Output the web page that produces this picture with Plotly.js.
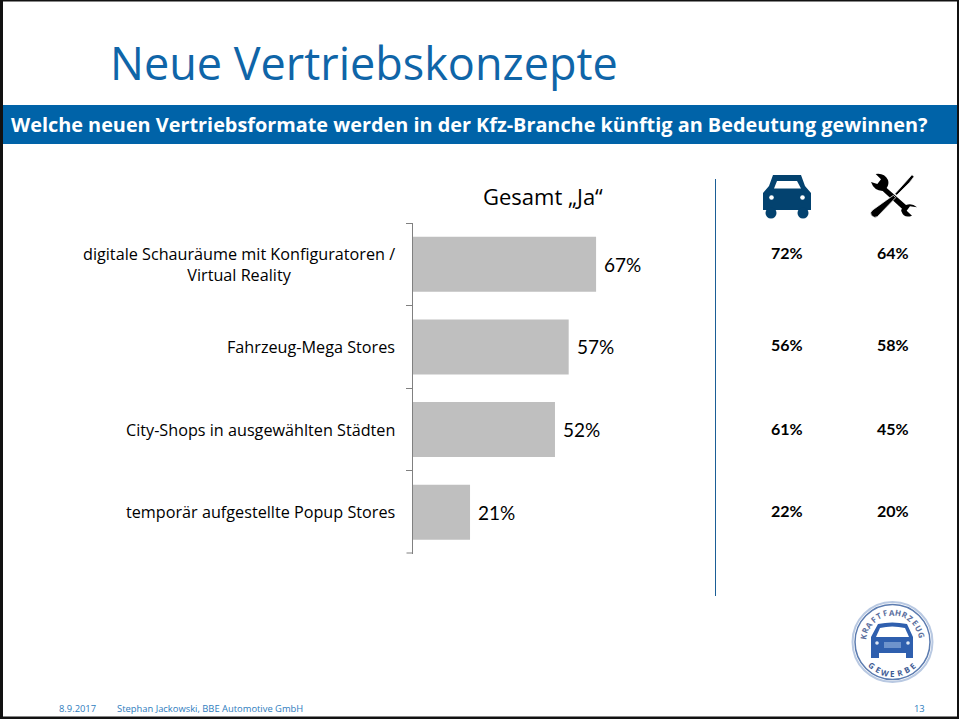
<!DOCTYPE html>
<html><head><meta charset="utf-8">
<script src="https://cdn.plot.ly/plotly-3.0.1.min.js"></script>
<style>html,body{margin:0;padding:0;background:#fff;overflow:hidden}#c{width:959px;height:719px}</style>
</head><body><div id="c"></div>
<script>
const categories=["digitale Schauräume mit Konfiguratoren /<br>Virtual Reality","Fahrzeug-Mega Stores","City-Shops in ausgewählten Städten","temporär aufgestellte Popup Stores"];
const gesamt=[67,57,52,21];
const handel=[72,56,61,22];
const service=[64,58,45,20];
const slideTitle="Neue Vertriebskonzepte";
const question="Welche neuen Vertriebsformate werden in der Kfz-Branche künftig an Bedeutung gewinnen?";
const columnTitle="Gesamt „Ja“";
const footerDate="8.9.2017";
const footerAuthor="Stephan Jackowski, BBE Automotive GmbH";
const pageNo="13";
const logoTop="KRAFTFAHRZEUG";
const logoBottom="GEWERBE";

const W=959,H=719,F="Lato, Carlito, sans-serif",O="'Open Sans', sans-serif";
const fx=x=>x/W, fy=y=>1-y/H;
const rowY=[253,344,428,510];
function path(str,ox=0,oy=0,s=1){
  return str.replace(/(-?[\d.]+),(-?[\d.]+)/g,(m,a,b)=>fx(ox+a*s)+","+fy(oy+b*s));
}
function pshape(d,fill,extra={}){return Object.assign({type:"path",xref:"paper",yref:"paper",path:d,fillcolor:fill,line:{width:0},layer:"above"},extra);}
function rect(x0,y0,x1,y1,fill){return {type:"rect",xref:"paper",yref:"paper",x0:fx(x0),x1:fx(x1),y0:fy(y0),y1:fy(y1),fillcolor:fill,line:{width:0},layer:"below"};}
function circ(cx,cy,r,fill,lc,lw){return {type:"circle",xref:"paper",yref:"paper",x0:fx(cx-r),x1:fx(cx+r),y0:fy(cy-r),y1:fy(cy+r),fillcolor:fill,line:{width:lw||0,color:lc||fill},layer:"above"};}
function txt(x,y,t,size,color,o={}){return Object.assign({xref:"paper",yref:"paper",x:fx(x),y:fy(y),text:t,showarrow:false,font:{family:O,size,color},xanchor:"left",yanchor:"middle",borderpad:0,borderwidth:0},o);}

const navy="#03426F";
const shapes=[
  rect(3,105,959,144,"#0063A8"),
  rect(0,0,959,1.5,"#111"),rect(0,0,3,719,"#111"),rect(957,0,959,719,"#111"),rect(0,716.5,959,719,"#111"),
  {type:"line",xref:"paper",yref:"paper",x0:fx(715.5),x1:fx(715.5),y0:fy(179),y1:fy(596),line:{color:"#1B5E96",width:1},layer:"above"},
  {type:"line",xref:"paper",yref:"paper",x0:fx(406.5),x1:fx(412.5),y0:fy(553),y1:fy(553),line:{color:"#808080",width:1},layer:"above"},
  pshape(path("M773,175 L801,175 L805,186 L811,193 L811,210 L763,210 L763,193 L769,186 Z"),navy),
  circ(771,213,5.5,navy),circ(803,213,5.5,navy),
  pshape(path("M777,181 L797,181 L801,188.5 L774,188.5 Z"),"#fff"),
  circ(771.5,197.5,2.3,"#fff"),circ(802.5,197.5,2.3,"#fff"),
  pshape(path("M527,42 Q553,38 564,60 Q568,72 560,84 L618,135 Q636,128 651,142 L630,139 L620,152 L636,167 Q612,176 604,154 Q602,150 606,146 L548,93 Q522,92 513,66 L532,72 L543,58 Z",700,160,1/3),"#000"),
  pshape(path("M636,44 L642,50 L628,68 L590,106 L585,101 L622,60 Z",700,160,1/3),"#000",{line:{width:0.7,color:"#fff"}}),
  pshape(path("M580,106 L587,113 L532,170 Q522,176 514,166 Q508,158 518,150 L560,120 Z",700,160,1/3),"#000",{line:{width:0.7,color:"#fff"}}),
  circ(892.5,642,40,"#fff","#B9C9E2",2),
  circ(892.5,642,37.5,"rgba(0,0,0,0)","#5C7CB0",1.5),
  pshape(path("M878,624 Q892,621 907,624 L913,637 L913,658 L906,658 L906,653 L879,653 L879,658 L871,658 L871,637 Z"),"#2F5FAE"),
  pshape(path("M880,628 Q892,625 905,628 L909,637 L876,637 Z"),"#fff"),
  pshape(path("M884,642 L901,642 L901,648 L884,648 Z"),"#6E93CC"),
  circ(877,643,1.8,"#DDE7F5"),circ(908,643,1.8,"#DDE7F5")
];
const annotations=[
  txt(110,62,slideTitle,45,"#0F65A8"),
  txt(11,124,"<b>"+question+"</b>",19.85,"#fff"),
  txt(483,196,columnTitle,22,"#000"),
  txt(59,708.5,footerDate,9.4,"#2F7DBE"),
  txt(117,708.5,footerAuthor,9.4,"#2F7DBE"),
  txt(914,708.5,pageNo,9.4,"#2F7DBE")
];
categories.forEach((c,i)=>{
  annotations.push({xref:"paper",yref:"y",x:fx(397),y:c,text:c,showarrow:false,xanchor:"right",yanchor:"middle",align:"center",font:{family:O,size:16.2,color:"#000"}});
  annotations.push({xref:"x",yref:"y",x:gesamt[i],y:c,text:gesamt[i]+"%",showarrow:false,xanchor:"left",yanchor:"middle",xshift:6,font:{family:F,size:19,color:"#000"}});
  annotations.push(txt(787,rowY[i],"<b>"+handel[i]+"%</b>",16,"#000",{xanchor:"center",font:{family:F,size:16,color:"#000"}}));
  annotations.push(txt(893,rowY[i],"<b>"+service[i]+"%</b>",16,"#000",{xanchor:"center",font:{family:F,size:16,color:"#000"}}));
});
[...logoTop].forEach((ch,i)=>{
  const a=(-79+i*(155/(logoTop.length-1)))*Math.PI/180;
  annotations.push(txt(892.5+30*Math.sin(a),642-30*Math.cos(a),"<b>"+ch+"</b>",8,"#5C6F9E",{xanchor:"center",textangle:a*180/Math.PI}));
});
[...logoBottom].forEach((ch,i)=>{
  const a=(-41+i*(82/(logoBottom.length-1)))*Math.PI/180;
  annotations.push(txt(892.5+31*Math.sin(a),642+31*Math.cos(a),"<b>"+ch+"</b>",8,"#3F5C94",{xanchor:"center",textangle:-a*180/Math.PI}));
});

Plotly.newPlot("c",[{
  type:"bar",orientation:"h",y:categories,x:gesamt,width:0.667,
  marker:{color:"#BFBFBF",line:{width:0}},hoverinfo:"skip"
}],{
  width:W,height:H,margin:{l:0,r:0,t:0,b:0},paper_bgcolor:"#fff",plot_bgcolor:"rgba(0,0,0,0)",showlegend:false,
  xaxis:{domain:[fx(412.5),fx(412.5+274)],range:[0,100],visible:false,fixedrange:true},
  yaxis:{domain:[fy(553.5),fy(223)],type:"category",autorange:false,range:[3.5,-0.5],categoryorder:"array",categoryarray:categories,
    showline:true,linecolor:"#808080",linewidth:1,showgrid:false,zeroline:false,ticks:"outside",tickson:"boundaries",ticklen:6,tickcolor:"#808080",tickwidth:1,showticklabels:false,fixedrange:true},
  shapes,annotations
},{displayModeBar:false,staticPlot:true});
</script></body></html>
